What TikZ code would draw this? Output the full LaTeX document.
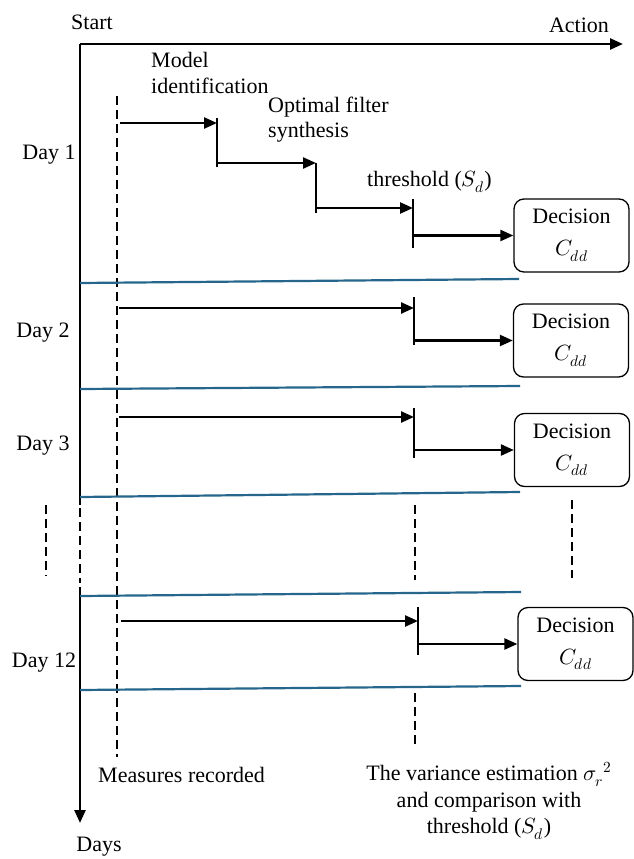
\documentclass[tikz,border=0pt]{standalone}
\usepackage{fontspec}
\usepackage{unicode-math}
\setmainfont{Liberation Serif}
\usetikzlibrary{arrows.meta}
\definecolor{sepblue}{RGB}{38,102,140}
\begin{document}
\begin{tikzpicture}[x=1pt,y=-1pt,
  font=\fontsize{22}{25.5}\selectfont,
  axisline/.style={line width=2.6pt},
  axisarrow/.style={line width=2.6pt,-{Triangle[length=13pt,width=11pt]}},
  flow/.style={line width=2.4pt,-{Triangle[length=13pt,width=11pt]}},
  tickline/.style={line width=1.3pt},
  sepline/.style={line width=2.2pt,color=sepblue},
  guide/.style={line width=1.7pt,dash pattern=on 9pt off 5pt},
  decbox/.style={draw,rounded corners=10pt,line width=1.3pt,minimum width=115pt,minimum height=73pt,align=center,inner sep=2pt,font=\fontsize{22}{32}\selectfont},
  lbl/.style={inner sep=0pt}]
\useasboundingbox (0,0) rectangle (633,859);

% axes
\coordinate (O) at (80,44);
\coordinate (Xend) at (623,44);
\coordinate (Yb1) at (80,505);
\coordinate (Yb2) at (80,587);
\coordinate (Yend) at (80,823);
\draw[axisarrow] (O) -- (Xend);
\draw[axisline] (O) -- (Yb1);
\draw[axisarrow] (Yb2) -- (Yend);

\node[lbl] (start) at (92,22) {Start};
\node[lbl] (action) at (579,25) {Action};
\node[lbl] (days) at (99,847) {Days};

% guides (dashed)
\coordinate (g1a) at (117,96);  \coordinate (g1b) at (117,757);
\coordinate (g2a) at (80,508);  \coordinate (g2b) at (80,583);
\coordinate (g3a) at (46,505);  \coordinate (g3b) at (46,576);
\coordinate (g4a) at (415,505); \coordinate (g4b) at (415,580);
\coordinate (g5a) at (415,693); \coordinate (g5b) at (415,747);
\coordinate (g6a) at (572,500); \coordinate (g6b) at (572,578);
\draw[guide] (g1a) -- (g1b);
\draw[guide] (g2a) -- (g2b);
\draw[guide] (g3a) -- (g3b);
\draw[guide] (g4a) -- (g4b);
\draw[guide] (g5a) -- (g5b);
\draw[guide] (g6a) -- (g6b);

% separators
\coordinate (s1a) at (80,283); \coordinate (s1b) at (519,279);
\coordinate (s2a) at (80,389); \coordinate (s2b) at (520,386);
\coordinate (s3a) at (80,497); \coordinate (s3b) at (520,492);
\coordinate (s4a) at (80,596); \coordinate (s4b) at (521,592);
\coordinate (s5a) at (80,690); \coordinate (s5b) at (521,686);
\draw[sepline] (s1a) -- (s1b);
\draw[sepline] (s2a) -- (s2b);
\draw[sepline] (s3a) -- (s3b);
\draw[sepline] (s4a) -- (s4b);
\draw[sepline] (s5a) -- (s5b);

% day labels
\node[lbl] (d1) at (49,155) {Day 1};
\node[lbl] (d2) at (43,333) {Day 2};
\node[lbl] (d3) at (43,446) {Day 3};
\node[lbl] (d12) at (44,663) {Day 12};

% Day 1 steps
\node[lbl,anchor=west,align=left] (model) at (151,73) {Model\\identification};
\node[lbl,anchor=west,align=left] (optf) at (268,119.5) {Optimal filter\\synthesis};
\node[lbl,anchor=west] (thr) at (367,182) {threshold ($S_d$)};

\coordinate (a1s) at (120,123); \coordinate (a1e) at (217,123);
\coordinate (k1a) at (217,118); \coordinate (k1b) at (217,167);
\coordinate (a2s) at (217,163); \coordinate (a2e) at (316,163);
\coordinate (k2a) at (316,163); \coordinate (k2b) at (316,213);
\coordinate (a3s) at (316,208); \coordinate (a3e) at (413,208);
\coordinate (k3a) at (413,199); \coordinate (k3b) at (413,248);
\coordinate (a4s) at (413,235.5);
\node[decbox] (box1) at (571.5,235.5) {Decision\\$C_{dd}$};
\draw[flow] (a1s) -- (a1e);
\draw[tickline] (k1a) -- (k1b);
\draw[flow] (a2s) -- (a2e);
\draw[tickline] (k2a) -- (k2b);
\draw[flow] (a3s) -- (a3e);
\draw[tickline] (k3a) -- (k3b);
\draw[flow] (a4s) -- (box1.west);

% Day 2
\coordinate (b1s) at (119,308); \coordinate (b1e) at (414,308);
\coordinate (kb1) at (414,297); \coordinate (kb2) at (414,345);
\coordinate (b2s) at (414,340.5);
\node[decbox] (box2) at (571,340.5) {Decision\\$C_{dd}$};
\draw[flow] (b1s) -- (b1e);
\draw[tickline] (kb1) -- (kb2);
\draw[flow] (b2s) -- (box2.west);

% Day 3
\coordinate (c1s) at (119,417); \coordinate (c1e) at (414,417);
\coordinate (kc1) at (414,408); \coordinate (kc2) at (414,458);
\coordinate (c2s) at (414,450);
\node[decbox] (box3) at (572,450) {Decision\\$C_{dd}$};
\draw[flow] (c1s) -- (c1e);
\draw[tickline] (kc1) -- (kc2);
\draw[flow] (c2s) -- (box3.west);

% Day 12
\coordinate (e1s) at (121,621); \coordinate (e1e) at (418,621);
\coordinate (ke1) at (418,607); \coordinate (ke2) at (418,655);
\coordinate (e2s) at (418,644);
\node[decbox] (box4) at (575.5,644) {Decision\\$C_{dd}$};
\draw[flow] (e1s) -- (e1e);
\draw[tickline] (ke1) -- (ke2);
\draw[flow] (e2s) -- (box4.west);

% bottom labels
\node[lbl,anchor=west] (meas) at (98,775) {Measures recorded};
\node[lbl,align=center,font=\fontsize{22}{26.5}\selectfont] (var) at (489,801) {The variance estimation $\sigma_r{}^2$\\and comparison with\\threshold ($S_d$)};
\end{tikzpicture}
\end{document}
